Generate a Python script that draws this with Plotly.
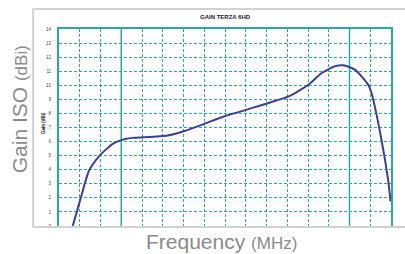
import plotly.graph_objects as go

# Data (x = grid column index across the frequency band, y = gain in dBi)
freq_idx = [0.66, 1.05, 1.45, 1.96, 2.59, 3.24, 3.64, 5.24, 6.04, 7.0, 7.95, 10.1,
            11.07, 12.02, 12.66, 13.3, 13.7, 14.26, 14.9, 15.06, 15.54, 15.86, 15.98]
gain_dbi = [0.0, 2.0, 3.94, 5.0, 5.84, 6.2, 6.27, 6.43, 6.75, 7.26, 7.78, 8.74,
            9.21, 10.04, 10.87, 11.35, 11.42, 11.11, 10.04, 9.45, 6.13, 3.28, 1.73]

y_ticks = list(range(0, 15))
x_dashed = [1, 2, 4, 5, 6, 7, 8, 9, 10, 11, 12, 13, 15]
x_solid = [3, 14]

title_text = "GAIN TERZA 6HD"
teal = "#26aaa8"
W, H = 405, 254
L, R, T, B = 59, 12, 29, 28
pw, ph = W - L - R, H - T - B


def px(x):
    return (x - L) / pw


def py(y):
    return (H - B - y) / ph


fig = go.Figure()
fig.add_trace(go.Scatter(
    x=freq_idx, y=gain_dbi, mode="lines",
    line=dict(color="#3d3d9a", width=2, shape="spline", smoothing=0.6),
    hoverinfo="skip", showlegend=False,
))

shapes = []
for xv in x_solid:
    shapes.append(dict(type="line", xref="x", yref="paper", x0=xv, x1=xv, y0=0, y1=1,
                       line=dict(color=teal, width=1.5), layer="below"))
# outer grey frame
shapes.append(dict(type="rect", xref="paper", yref="paper",
                   x0=px(33), x1=px(420), y0=py(227), y1=py(9),
                   line=dict(color="#d2d2d2", width=2), layer="above"))

dash = "3px,2px"
fig.update_layout(
    width=W, height=H,
    margin=dict(l=L, r=R, t=T, b=B),
    paper_bgcolor="white", plot_bgcolor="white",
    showlegend=False,
    shapes=shapes,
    xaxis=dict(range=[0, 16], tickvals=x_dashed, showticklabels=False, ticks="",
               showgrid=True, gridcolor=teal, griddash=dash, gridwidth=1,
               showline=True, mirror=True, linecolor=teal, linewidth=2, zeroline=False),
    yaxis=dict(range=[0, 14], tickvals=y_ticks, ticktext=[str(v) for v in y_ticks],
               tickfont=dict(size=4.5, color="#444", family="Liberation Sans"),
               ticks="", ticklabelstandoff=5,
               showgrid=True, gridcolor=teal, griddash=dash, gridwidth=1,
               showline=True, mirror=True, linecolor=teal, linewidth=2, zeroline=False),
    annotations=[
        dict(text="<b>" + title_text + "</b>", xref="paper", yref="paper",
             x=px(226), y=py(17), showarrow=False, xanchor="center", yanchor="middle",
             font=dict(size=6, color="#222", family="Liberation Sans")),
        dict(text="<b>Gain (dBi)</b>", xref="paper", yref="paper",
             x=px(43), y=py(123), showarrow=False, textangle=-90,
             xanchor="center", yanchor="middle",
             font=dict(size=4.5, color="#222", family="Liberation Sans")),
        dict(text="Gain ISO <span style='font-size:17px'>(dBi)</span>", xref="paper", yref="paper",
             x=px(19), y=py(109), showarrow=False, textangle=-90,
             xanchor="center", yanchor="middle",
             font=dict(size=21, color="#8a8a8a", family="Liberation Sans")),
        dict(text="Frequency <span style='font-size:17px'>(MHz)</span>", xref="paper", yref="paper",
             x=px(222), y=py(241), showarrow=False,
             xanchor="center", yanchor="middle",
             font=dict(size=21, color="#8a8a8a", family="Liberation Sans")),
    ],
)

fig.write_html("out.html", config={"displayModeBar": False},
               post_script="document.body.style.margin='0px';document.body.style.overflow='hidden';")
